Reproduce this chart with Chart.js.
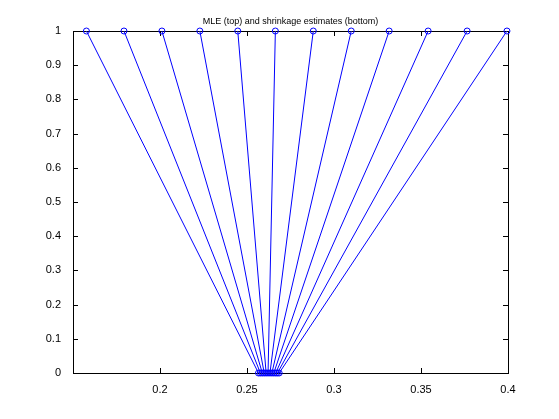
<!DOCTYPE html>
<html><head><meta charset="utf-8">
<script src="https://cdn.jsdelivr.net/npm/chart.js@4"></script>
<style>html,body{margin:0;background:#fff}#wrap{width:559px;height:419px}</style>
</head><body><div id="wrap"><canvas id="c"></canvas></div>
<script>
const mle = [0.1577, 0.1793, 0.2011, 0.2229, 0.2447, 0.2663, 0.2881, 0.3099, 0.3317, 0.3541, 0.3765, 0.3994];
const shrunk = [0.2566, 0.2577, 0.2588, 0.2599, 0.2610, 0.2621, 0.2632, 0.2643, 0.2654, 0.2665, 0.2675, 0.2685];
const xTicks = [0.2, 0.25, 0.3, 0.35, 0.4];
const yTicks = [0, 0.1, 0.2, 0.3, 0.4, 0.5, 0.6, 0.7, 0.8, 0.9, 1];

const datasets = mle.map((m, i) => ({
  data: [{ x: m, y: 1 }, { x: shrunk[i], y: 0 }],
  borderColor: '#0000ff', borderWidth: 1, clip: false,
  pointRadius: 3, pointBorderColor: '#0000ff', pointBackgroundColor: 'transparent', pointBorderWidth: 1
}));

const box = {
  id: 'box',
  beforeDatasetsDraw(chart) {
    const { ctx, chartArea: a, scales } = chart;
    ctx.save();
    ctx.strokeStyle = '#000'; ctx.lineWidth = 1;
    ctx.strokeRect(a.left + 0.5, a.top + 0.5, a.right - a.left, a.bottom - a.top);
    ctx.beginPath();
    xTicks.forEach(v => {
      const x = Math.round(scales.x.getPixelForValue(v)) + 0.5;
      ctx.moveTo(x, a.bottom); ctx.lineTo(x, a.bottom - 5);
      ctx.moveTo(x, a.top); ctx.lineTo(x, a.top + 5);
    });
    yTicks.forEach(v => {
      const y = Math.round(scales.y.getPixelForValue(v)) + 0.5;
      ctx.moveTo(a.left, y); ctx.lineTo(a.left + 5, y);
      ctx.moveTo(a.right, y); ctx.lineTo(a.right - 5, y);
    });
    ctx.stroke();
    ctx.fillStyle = '#000';
    ctx.font = '9px "Liberation Sans", Arial, sans-serif';
    ctx.textAlign = 'center'; ctx.textBaseline = 'bottom';
    ctx.fillText('MLE (top) and shrinkage estimates (bottom)', (a.left + a.right) / 2, a.top - 5);
    ctx.restore();
  }
};

new Chart(document.getElementById('c'), {
  type: 'line',
  data: { datasets },
  plugins: [box],
  options: {
    responsive: true, maintainAspectRatio: false, animation: false,
    layout: { padding: { top: 31, right: 51, left: 0, bottom: 0 } },
    plugins: { legend: { display: false }, tooltip: { enabled: false } },
    scales: {
      x: {
        type: 'linear', min: 0.15, max: 0.4,
        afterBuildTicks: s => { s.ticks = xTicks.map(v => ({ value: v })); },
        afterFit: s => { s.height = 46; },
        grid: { display: false }, border: { display: false },
        ticks: { color: '#000', font: { family: '"Liberation Sans", Arial', size: 11 }, padding: 2, maxRotation: 0,
          callback: v => String(v) }
      },
      y: {
        min: 0, max: 1,
        afterBuildTicks: s => { s.ticks = yTicks.map(v => ({ value: v })); },
        afterFit: s => { s.width = 73; },
        grid: { display: false }, border: { display: false },
        ticks: { color: '#000', font: { family: '"Liberation Sans", Arial', size: 11 }, padding: 4,
          callback: v => String(v) }
      }
    }
  }
});
</script></body></html>
